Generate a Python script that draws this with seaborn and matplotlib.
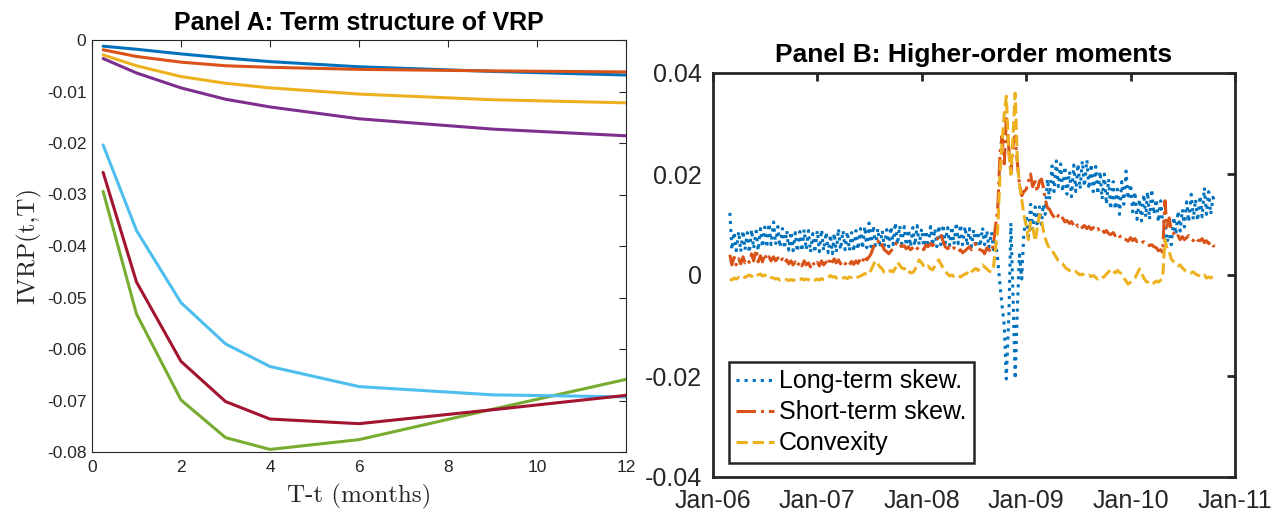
import numpy as np
import pandas as pd
import matplotlib
matplotlib.use("Agg")
import matplotlib.pyplot as plt
import matplotlib.dates as mdates
from matplotlib.ticker import FuncFormatter, FixedLocator
import seaborn as sns

# ---------------- Panel A data ----------------
maturities = [0.25, 1, 2, 3, 4, 6, 9, 12]
vrp_blue   = [-0.0012, -0.0018, -0.0027, -0.0035, -0.0042, -0.0052, -0.0061, -0.0068]
vrp_orange = [-0.0019, -0.0032, -0.0043, -0.0050, -0.0053, -0.0057, -0.0060, -0.0062]
vrp_yellow = [-0.0029, -0.0050, -0.0071, -0.0084, -0.0093, -0.0105, -0.0116, -0.0122]
vrp_purple = [-0.0036, -0.0064, -0.0093, -0.0115, -0.0130, -0.0153, -0.0173, -0.0186]
vrp_green  = [-0.0294, -0.0532, -0.0699, -0.0772, -0.0795, -0.0776, -0.0717, -0.0659]
vrp_cyan   = [-0.0204, -0.0370, -0.0510, -0.0590, -0.0634, -0.0673, -0.0689, -0.0693]
vrp_red    = [-0.0257, -0.0470, -0.0624, -0.0702, -0.0736, -0.0745, -0.0718, -0.0690]
panel_a_series = ["s1", "s2", "s3", "s4", "s5", "s6", "s7"]
panel_a_colors = ["#0072BD", "#D95319", "#EDB120", "#7E2F8E", "#77AC30", "#4DBEEE", "#A2142F"]

# ---------------- Panel B data (x 1e-3, four observations per month, Mar-2006 .. Oct-2010) ----------------
first_month = "2006-03"
last_month = "2010-10"
obs_days = [1, 8, 16, 23]
long_term_skew = [
    12.3, 5.0, 8.5, 4.8,   8.6, 4.6, 8.8, 5.0,   8.4, 4.4, 9.0, 5.2,   8.7, 4.8, 9.2, 5.5,
    9.5, 5.4, 10.2, 6.0,   10.5, 6.0, 9.6, 5.5,  9.2, 5.2, 8.8, 4.9,   8.6, 4.8, 8.4, 4.6,
    8.6, 4.7, 9.0, 5.0,    8.8, 4.5, 8.2, 4.4,
    8.8, 4.6, 9.0, 4.8,    8.5, 4.4, 8.0, 4.2,   8.3, 4.5, 9.2, 5.0,   8.8, 5.0, 8.6, 4.8,
    8.4, 4.6, 8.8, 5.0,    9.2, 5.2, 9.6, 5.4,   10.3, 5.6, 9.8, 5.8,  9.2, 5.4, 8.8, 5.6,
    9.0, 5.6, 9.6, 6.0,    10.4, 6.0, 9.8, 6.2,  9.6, 5.8, 9.0, 5.6,   9.4, 5.8, 9.8, 6.0,
    9.2, 5.6, 8.8, 5.5,    9.6, 5.8, 9.2, 5.6,   9.8, 6.0, 10.0, 6.2,  9.4, 5.8, 9.6, 6.0,
    10.4, 6.2, 10.0, 6.0,  9.6, 5.8, 9.2, 5.6,   9.0, 5.4, 8.6, 5.6,   9.4, 6.0, 8.8, 5.4,
    8.5, 5.0, 6.5, 3.0,    -2.0, -6.0, -10.0, -20.6,  -8.0, 10.3, -5.0, -20.6,  -6.0, 4.0, -0.8, 8.0,
    11.7, 7.0, 14.0, 9.0,  13.5, 9.5, 13.5, 10.0,  14.0, 12.0, 19.0, 15.0,  21.6, 16.5, 22.6, 17.5,
    22.0, 16.5, 21.5, 16.0,  20.5, 15.5, 21.8, 16.5,  22.0, 17.0, 22.6, 17.5,  22.8, 17.0, 22.0, 16.5,
    21.5, 16.0, 20.5, 15.0,  20.0, 14.0, 19.0, 13.0,  18.5, 13.0, 17.0, 12.0,  18.5, 14.0, 20.6, 15.0,
    18.0, 12.5, 16.5, 11.0,  15.0, 10.7, 16.0, 11.5,  16.5, 11.0, 17.0, 12.0,  15.0, 10.5, 14.7, 10.3,
    10.7, 6.5, 8.0, 6.0,   11.5, 8.0, 12.7, 8.7,  13.0, 9.5, 14.5, 10.5,  16.0, 11.0, 15.0, 10.7,
    15.7, 11.5, 17.3, 12.0,  16.5, 12.0, 15.4, 14.0,
]
short_term_skew = [
    4.0, 2.0, 3.5, 2.0,   3.2, 2.2, 3.6, 2.4,   3.0, 2.5, 4.2, 2.8,   5.0, 2.6, 3.8, 2.6,
    4.2, 3.0, 3.6, 2.8,   3.6, 2.8, 3.4, 2.6,   3.2, 2.4, 3.0, 2.2,   2.8, 2.0, 2.6, 1.8,
    2.6, 1.8, 2.8, 2.0,   2.4, 1.6, 2.6, 1.8,
    2.5, 1.8, 2.8, 2.0,   2.6, 2.0, 3.4, 2.6,   3.2, 2.4, 3.0, 2.2,   2.8, 2.2, 2.6, 2.0,
    2.7, 2.1, 2.8, 2.3,   3.2, 2.6, 3.8, 3.0,   3.6, 4.2, 5.5, 6.2,   6.8, 5.6, 6.0, 5.0,
    4.6, 4.2, 4.8, 5.2,   6.0, 6.6, 6.2, 5.6,   5.8, 5.2, 5.6, 5.0,   5.4, 5.8, 5.2, 5.6,
    5.4, 5.0, 6.0, 5.6,   6.2, 5.8, 6.4, 6.8,   7.8, 8.2, 6.6, 5.6,   5.2, 5.6, 5.0, 5.4,
    4.8, 4.6, 5.0, 4.4,   4.8, 5.2, 5.6, 5.0,   5.6, 6.2, 5.4, 5.0,   4.8, 4.2, 5.4, 5.0,
    4.5, 6.0, 10.0, 13.0,  24.0, 27.5, 22.0, 31.0,  25.0, 20.0, 26.0, 27.5,  22.0, 18.0, 15.7, 16.5,
    17.0, 18.5, 20.0, 17.5,  18.5, 16.5, 18.6, 19.0,  17.5, 15.0, 13.3, 13.0,  12.0, 11.5, 11.0, 11.8,
    11.0, 11.3, 10.5, 10.8,  10.2, 10.6, 9.8, 10.3,  9.6, 10.0, 9.4, 9.8,  9.2, 9.6, 9.0, 9.4,
    8.8, 9.2, 8.6, 9.0,   8.4, 8.8, 8.2, 8.0,   8.4, 7.8, 8.2, 7.6,   7.8, 7.2, 7.0, 6.7,
    7.4, 6.8, 7.2, 6.6,   6.8, 6.4, 6.6, 6.2,   6.2, 5.8, 6.0, 5.6,   5.4, 4.8, 5.0, 4.5,
    14.7, 9.5, 11.3, 8.8,  8.2, 7.4, 7.8, 7.0,  7.6, 7.0, 7.4, 7.8,   7.2, 6.8, 7.4, 6.9,
    6.8, 7.2, 6.4, 6.8,   6.2, 6.6, 5.8, 5.7,
]
convexity = [
    -0.8, -1.0, -0.6, -0.8,  -0.5, -0.7, -0.3, -0.5,  -0.2, 0.0, -0.3, 0.1,  0.3, 0.0, 0.2, -0.2,
    0.0, -0.4, -0.2, -0.5,  -0.6, -0.8, -0.7, -1.0,  -0.8, -1.0, -0.9, -1.1,  -0.9, -1.1, -0.8, -1.0,
    -0.9, -0.7, -1.0, -0.8,  -0.9, -1.1, -0.8, -1.0,
    -0.8, -1.0, -0.7, -0.9,  -0.8, -0.5, -0.1, -0.4,  -0.3, -0.6, -0.4, -0.7,  -0.6, -0.5, -0.7, -0.4,
    -0.5, -0.3, -0.6, -0.4,  -0.2, 0.0, 0.3, 0.0,  0.4, 1.0, 2.0, 2.8,  2.2, 1.6, 1.2, 0.5,
    0.3, 0.6, 0.9, 0.6,  1.4, 2.5, 2.0, 1.4,  1.2, 1.5, 0.8, 0.4,  0.5, 1.0, 2.0, 3.0,
    2.4, 1.8, 1.4, 1.8,  1.2, 1.0, 1.8, 2.5,  3.0, 2.2, 1.4, 0.8,  0.2, -0.2, 0.0, -0.3,
    -0.2, 0.0, -0.4, -0.1,  0.2, 0.4, 0.0, 0.6,  1.0, 1.3, 0.9, 1.4,  2.0, 1.6, 1.2, 0.8,
    0.6, 1.5, 5.7, 9.0,  20.0, 26.0, 32.0, 35.4,  24.0, 20.0, 28.0, 36.0,  22.0, 18.0, 15.0, 12.0,
    9.7, 7.0, 10.5, 9.7,  6.7, 9.0, 12.0, 11.0,  9.0, 7.3, 6.0, 5.3,  5.0, 4.2, 3.5, 2.8,
    2.4, 2.2, 1.6, 1.2,  0.9, 0.8, 0.5, 0.7,  0.3, 0.0, 0.2, -0.1,  -0.2, 0.0, -0.3, -0.1,
    -0.5, -0.8, -0.4, -0.6,  -0.3, 0.2, 0.6, 1.2,  0.8, 0.4, 0.9, 0.5,  0.2, -0.6, -1.2, -1.8,
    -1.4, -1.0, -0.6, 0.2,  1.2, 0.4, -0.6, -1.2,  -1.4, -1.8, -1.5, -1.6,  -1.2, -1.4, -1.0, -0.6,
    7.0, 5.3, 4.6, 3.2,  2.6, 2.2, 1.8, 2.0,  1.4, 1.0, 0.6, 0.4,  0.4, 0.6, 0.2, 0.0,
    -0.2, -0.4, 0.0, -0.6,  -0.4, -0.6, -0.2, -0.5,
]
panel_b_labels = ["Long-term skew.", "Short-term skew.", "Convexity"]
panel_b_colors = ["#0072BD", "#D95319", "#EDB120"]
panel_b_styles = [":", "-.", "--"]
panel_b_ticks = ["2006-01-01", "2007-01-01", "2008-01-01", "2009-01-01", "2010-01-01", "2011-01-01"]

# ---------------- styling ----------------
sns.set_style("white")
plt.rcParams["font.family"] = ["Liberation Sans", "DejaVu Sans"]
plt.rcParams["axes.unicode_minus"] = False

fig = plt.figure(figsize=(12.82, 5.21), dpi=100)
axA = fig.add_axes([92 / 1282, 1 - 452 / 521, (626 - 92) / 1282, (452 - 40) / 521])
axB = fig.add_axes([713 / 1282, 1 - 477 / 521, (1235 - 713) / 1282, (477 - 73) / 521])

# ---------------- Panel A ----------------
all_vals = [vrp_blue, vrp_orange, vrp_yellow, vrp_purple, vrp_green, vrp_cyan, vrp_red]
dfA = pd.DataFrame({
    "maturity": np.tile(maturities, len(all_vals)),
    "ivrp": np.concatenate(all_vals),
    "series": np.repeat(panel_a_series, len(maturities)),
})
sns.lineplot(data=dfA, x="maturity", y="ivrp", hue="series", hue_order=panel_a_series,
             palette=panel_a_colors, linewidth=2.2, legend=False, ax=axA, sort=False)
axA.set_xlim(0, 12)
axA.set_ylim(-0.08, 0)
axA.xaxis.set_major_locator(FixedLocator([0, 2, 4, 6, 8, 10, 12]))
axA.yaxis.set_major_locator(FixedLocator([0, -0.01, -0.02, -0.03, -0.04, -0.05, -0.06, -0.07, -0.08]))
axA.yaxis.set_major_formatter(FuncFormatter(lambda v, p: "0" if abs(v) < 1e-12 else f"{v:g}"))
axA.tick_params(direction="in", top=True, right=True, length=5, width=0.8,
                labelsize=12.5, colors="#262626")
axA.tick_params(axis="y", pad=4)
axA.tick_params(axis="x", pad=6)
for s in axA.spines.values():
    s.set_linewidth(0.8)
    s.set_color("#262626")
    s.set_visible(True)
axA.set_xlabel("T-t (months)", fontfamily="cmr10", fontsize=18, color="#262626", labelpad=6)
axA.set_ylabel("IVRP(t,T)", fontfamily="cmr10", fontsize=18, color="#262626", labelpad=4)
axA.set_title("Panel A: Term structure of VRP", fontsize=18, fontweight="bold", pad=7, color="black")

# ---------------- Panel B ----------------
months = pd.period_range(first_month, last_month, freq="M")
dates = [pd.Timestamp(year=m.year, month=m.month, day=d) for m in months for d in obs_days]
series_vals = [long_term_skew, short_term_skew, convexity]
for lab, vals, col, ls in zip(panel_b_labels, series_vals, panel_b_colors, panel_b_styles):
    sns.lineplot(x=dates, y=np.array(vals) * 1e-3, color=col, linestyle=ls, linewidth=2.2,
                 label=lab, ax=axB)
axB.set_xlim(pd.Timestamp(panel_b_ticks[0]), pd.Timestamp(panel_b_ticks[-1]))
axB.set_ylim(-0.04, 0.04)
axB.xaxis.set_major_locator(FixedLocator(mdates.date2num(pd.to_datetime(panel_b_ticks))))
axB.xaxis.set_major_formatter(mdates.DateFormatter("%b-%y"))
axB.yaxis.set_major_locator(FixedLocator([-0.04, -0.02, 0, 0.02, 0.04]))
axB.yaxis.set_major_formatter(FuncFormatter(lambda v, p: "0" if abs(v) < 1e-12 else f"{v:g}"))
axB.tick_params(direction="in", top=True, right=True, length=6, width=2,
                labelsize=18, colors="#262626")
axB.tick_params(axis="y", pad=8)
axB.tick_params(axis="x", pad=9)
for s in axB.spines.values():
    s.set_linewidth(2)
    s.set_color("#262626")
    s.set_visible(True)
axB.set_xlabel("")
axB.set_ylabel("")
axB.set_title("Panel B: Higher-order moments", fontsize=19, fontweight="bold", pad=8, color="black")
leg = axB.legend(loc="lower left", bbox_to_anchor=(0.03, 0.035), fontsize=18,
                 frameon=True, fancybox=False, handlelength=1.5, handletextpad=0.2,
                 borderpad=0.3, labelspacing=0.28, borderaxespad=0.0)
leg.get_frame().set_edgecolor("#262626")
leg.get_frame().set_linewidth(1.8)
leg.get_frame().set_alpha(1)
for t in leg.get_texts():
    t.set_color("black")

fig.savefig("out.png", dpi=100)
